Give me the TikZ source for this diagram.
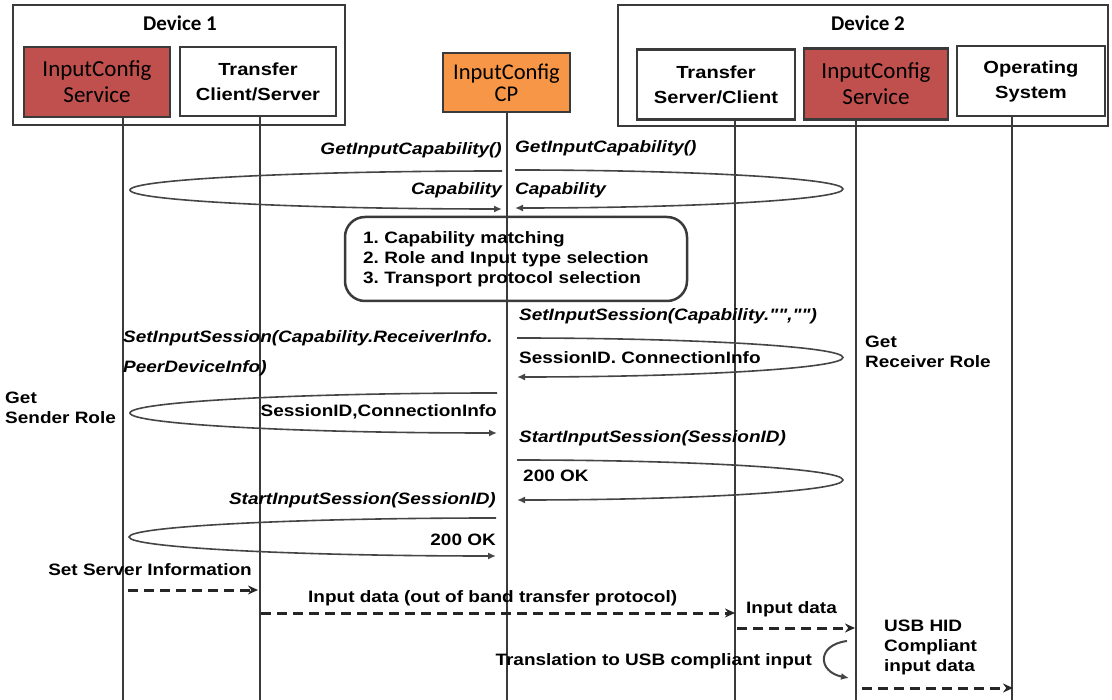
\documentclass[tikz,border=0pt]{standalone}
\usepackage{fontspec}
\setmainfont{Liberation Sans}
\newfontfamily\lblfont[FakeStretch=1.15]{Liberation Sans}
\newfontfamily\boxfont{Carlito}
\usetikzlibrary{arrows.meta}
\frenchspacing

\definecolor{svcred}{HTML}{C0504D}
\definecolor{cporange}{HTML}{F79646}
\definecolor{edge}{HTML}{3A3A3A}
\definecolor{loopgray}{HTML}{454545}

\tikzset{
  frame/.style={draw=edge, line width=2.5pt, inner sep=0pt},
  entity/.style={draw=edge, line width=2.5pt, inner sep=0pt, align=center},
  svcbox/.style={entity, fill=svcred, font=\boxfont\fontsize{23}{26}\selectfont},
  cpbox/.style={entity, fill=cporange, font=\boxfont\fontsize{22.5}{22}\selectfont},
  plainbox/.style={entity, fill=white, font=\lblfont\bfseries\fontsize{17.5}{25}\selectfont},
  devlabel/.style={inner sep=0pt, font=\boxfont\bfseries\fontsize{21}{24}\selectfont},
  life/.style={draw=edge, line width=2.5pt},
  lbl/.style={inner sep=0pt, font=\lblfont\bfseries\fontsize{16.5}{20}\selectfont},
  call/.style={inner sep=0pt, font=\lblfont\bfseries\itshape\fontsize{16.5}{20}\selectfont},
  msgloop/.style={draw=loopgray, line width=1.6pt, -{Latex[length=8pt,width=7pt]}},
  dasharrow/.style={draw=black!85, line width=3pt, dash pattern=on 10pt off 6pt,
                    -{Stealth[length=10pt,width=9pt]}},
  stepbox/.style={draw=edge, line width=2.5pt, rounded corners=20pt, inner sep=0pt,
                  align=left, font=\lblfont\bfseries\fontsize{16.5}{20}\selectfont},
}

\begin{document}
\begin{tikzpicture}[x=1pt,y=-1pt]
\useasboundingbox (0,0) rectangle (1112,700);

% ---- device frames ----
\node[frame, minimum width=332pt, minimum height=120pt] (dev1) at (179,65) {};
\node[devlabel] (dev1lbl) at (180,23) {Device 1};
\node[frame, minimum width=490pt, minimum height=121pt] (dev2) at (863,65.5) {};
\node[devlabel] (dev2lbl) at (868,23) {Device 2};

% ---- participants ----
\node[svcbox, minimum width=146pt, minimum height=70pt] (svc1) at (97,82) {InputConfig\\Service};
\node[plainbox, minimum width=156pt, minimum height=69pt] (tr1) at (258,81.5) {Transfer\\Client/Server};
\node[cpbox, minimum width=127pt, minimum height=59pt] (cp) at (506.5,82.5) {InputConfig\\CP};
\node[plainbox, minimum width=158pt, minimum height=70pt] (tr2) at (716,84.5) {Transfer\\Server/Client};
\node[svcbox, minimum width=144pt, minimum height=71pt] (svc2) at (876,84) {InputConfig\\Service};
\node[plainbox, minimum width=148pt, minimum height=70pt] (os) at (1031,81) {Operating\\System};

% ---- lifelines ----
\coordinate (x1) at (123,700);
\coordinate (x2) at (260,700);
\coordinate (x3) at (507,700);
\coordinate (x4) at (735,700);
\coordinate (x5) at (856,700);
\coordinate (x6) at (1012,700);
\draw[life] (x1 |- svc1.south) -- (x1);
\draw[life] (x2 |- tr1.south) -- (x2);
\draw[life] (x3 |- cp.south) -- (x3);
\draw[life] (x4 |- tr2.south) -- (x4);
\draw[life] (x5 |- svc2.south) -- (x5);
\draw[life] (x6 |- os.south) -- (x6);

% ---- capability query ----
\node[call, anchor=east] (q1) at (502,150) {GetInputCapability()};
\node[call, anchor=east] (r1) at (502,190) {Capability};
\coordinate (q1s) at (502,171);
\draw[msgloop] (q1s) arc[start angle=90, end angle=270, x radius=372pt, y radius=19pt];

\node[call, anchor=west] (q2) at (515,148) {GetInputCapability()};
\node[call, anchor=west] (r2) at (515,190) {Capability};
\coordinate (q2s) at (515,170);
\draw[msgloop] (q2s) arc[start angle=90, end angle=-90, x radius=328pt, y radius=19pt];

% ---- decisions taken by the control point ----
\node[stepbox, minimum width=342pt, minimum height=84pt, text width=306pt] (steps) at (516,259)
  {1. Capability matching\\2. Role and Input type selection\\3. Transport protocol selection};

% ---- session set-up, receiver side ----
\node[call, anchor=west] (q3) at (519,316) {SetInputSession(Capability."","")};
\node[lbl, anchor=west] (r3) at (519,358) {SessionID. ConnectionInfo};
\coordinate (q3s) at (517,338);
\draw[msgloop] (q3s) arc[start angle=90, end angle=-90, x radius=326pt, y radius=19.5pt];
\node[lbl, anchor=west, align=left] (recv) at (865,352) {Get\\Receiver Role};

% ---- session set-up, sender side ----
\node[call, anchor=west, align=left] (q4) at (123,353) {SetInputSession(Capability.ReceiverInfo.\\[10pt]PeerDeviceInfo)};
\node[lbl, anchor=east] (r4) at (497,412) {SessionID,ConnectionInfo};
\coordinate (q4s) at (497,393);
\draw[msgloop] (q4s) arc[start angle=90, end angle=270, x radius=367pt, y radius=20pt];
\node[lbl, anchor=west, align=left] (send) at (5,408) {Get\\Sender Role};

% ---- session start ----
\node[call, anchor=west] (q5) at (519,438) {StartInputSession(SessionID)};
\node[lbl, anchor=west] (r5) at (523,476) {200 OK};
\coordinate (q5s) at (517,460);
\draw[msgloop] (q5s) arc[start angle=90, end angle=-90, x radius=326pt, y radius=20pt];

\node[call, anchor=east] (q6) at (496,500) {StartInputSession(SessionID)};
\node[lbl, anchor=east] (r6) at (496,540) {200 OK};
\coordinate (q6s) at (496,518);
\draw[msgloop] (q6s) arc[start angle=90, end angle=270, x radius=367pt, y radius=19pt];

% ---- input data path ----
\node[lbl, anchor=east] (ssi) at (252,570) {Set Server Information};
\coordinate (d1a) at (128,590);
\coordinate (d1b) at (258,590);
\draw[dasharrow] (d1a) -- (d1b);

\node[lbl, anchor=west] (oob) at (308,598) {Input data (out of band transfer protocol)};
\coordinate (d2a) at (261,613);
\coordinate (d2b) at (735,613);
\draw[dasharrow] (d2a) -- (d2b);

\node[lbl, anchor=west] (ind) at (746,609) {Input data};
\coordinate (d3a) at (737,628);
\coordinate (d3b) at (855,628);
\draw[dasharrow] (d3a) -- (d3b);

\node[lbl, anchor=west, align=left] (usb) at (884,647) {USB HID\\Compliant\\input data};

\node[lbl, anchor=east] (trans) at (812,661) {Translation to USB compliant input};
\coordinate (t1) at (847,641);
\coordinate (t2) at (849,678);
\draw[draw=loopgray, line width=2pt, -{Latex[length=8pt,width=7pt]}]
  (t1) .. controls (816,645) and (818,672) .. (t2);

\coordinate (d4a) at (862,688);
\coordinate (d4b) at (1013,688);
\draw[dasharrow] (d4a) -- (d4b);
\end{tikzpicture}
\end{document}
